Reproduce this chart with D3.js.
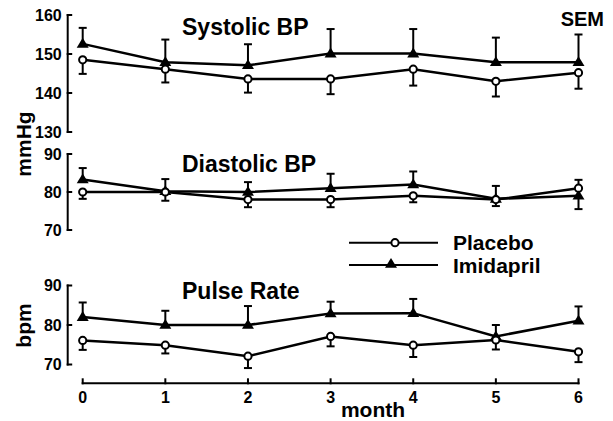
<!DOCTYPE html>
<html>
<head>
<meta charset="utf-8">
<script src="https://cdn.jsdelivr.net/npm/d3@7"></script>
<style>
	body { margin: 0; background: #fff; }
	svg text { font-family: "Liberation Sans", Arial, Helvetica, sans-serif; font-weight: bold; fill: #000; }
</style>
</head>
<body>
<div id="chart"></div>
<script>
"use strict";

var months = [0, 1, 2, 3, 4, 5, 6];

// Systolic BP (mmHg)
var sysPlacebo = [148.5, 146.1, 143.6, 143.6, 146.1, 143.0, 145.2];
var sysPlaceboSem = [3.6, 3.4, 3.5, 3.9, 4.2, 3.9, 4.1];
var sysImid = [152.6, 147.9, 147.1, 150.1, 150.1, 147.9, 147.9];
var sysImidSem = [4.1, 5.8, 5.4, 6.3, 6.3, 6.3, 7.1];

// Diastolic BP (mmHg)
var diaPlacebo = [80.0, 80.0, 78.0, 78.0, 79.0, 78.0, 81.0];
var diaPlaceboSem = [1.8, 2.3, 2.0, 2.0, 1.7, 1.7, 2.2];
var diaImid = [83.3, 80.2, 80.0, 81.0, 82.0, 78.2, 79.0];
var diaImidSem = [3.0, 3.2, 2.6, 3.8, 3.4, 3.4, 3.5];

// Pulse rate (bpm)
var prPlacebo = [76.1, 74.9, 72.1, 77.1, 74.9, 76.2, 73.2];
var prPlaceboSem = [2.4, 2.1, 3.0, 2.5, 3.0, 2.4, 2.6];
var prImid = [82.0, 80.0, 80.0, 82.9, 83.0, 77.1, 81.1];
var prImidSem = [3.7, 3.6, 4.8, 3.0, 3.6, 2.9, 3.6];

// +1 = error bar drawn upward, -1 = downward
var sysPlaceboDir = [-1, -1, -1, -1, -1, -1, -1];
var sysImidDir = [1, 1, 1, 1, 1, 1, 1];
var diaPlaceboDir = [-1, -1, -1, -1, -1, -1, 1];
var diaImidDir = [1, 1, 1, 1, 1, 1, -1];
var prPlaceboDir = [-1, -1, -1, -1, -1, -1, -1];
var prImidDir = [1, 1, 1, 1, 1, 1, 1];

var panels = [
	{ title: "Systolic BP", domain: [130, 160], ticks: [130, 140, 150, 160], top: 15, bottom: 132, titleY: 34.5,
		placebo: sysPlacebo, placeboSem: sysPlaceboSem, placeboDir: sysPlaceboDir,
		imid: sysImid, imidSem: sysImidSem, imidDir: sysImidDir },
	{ title: "Diastolic BP", domain: [70, 90], ticks: [70, 80, 90], top: 154, bottom: 230, titleY: 171.5,
		placebo: diaPlacebo, placeboSem: diaPlaceboSem, placeboDir: diaPlaceboDir,
		imid: diaImid, imidSem: diaImidSem, imidDir: diaImidDir },
	{ title: "Pulse Rate", domain: [70, 90], ticks: [70, 80, 90], top: 285.5, bottom: 364.5, titleY: 298.5,
		placebo: prPlacebo, placeboSem: prPlaceboSem, placeboDir: prPlaceboDir,
		imid: prImid, imidSem: prImidSem, imidDir: prImidDir }
];

var width = 613, height = 421;
var axisX = 67.7;

var svg = d3.select("#chart").append("svg")
	.attr("width", width)
	.attr("height", height);

var x = d3.scaleLinear().domain([0, 6]).range([82.7, 578.5]);

var triangle = "M-6,3.8L6,3.8L0,-6Z";

function drawSeries(g, y, vals, sems, dirs, kind) {
	// error bars
	months.forEach(function(m, i) {
		var y0 = y(vals[i]);
		var y1 = y(vals[i] + dirs[i] * sems[i]);
		g.append("line")
			.attr("x1", x(m)).attr("x2", x(m))
			.attr("y1", y0).attr("y2", y1)
			.attr("stroke", "#000").attr("stroke-width", 2);
		g.append("line")
			.attr("x1", x(m) - 4).attr("x2", x(m) + 4)
			.attr("y1", y1).attr("y2", y1)
			.attr("stroke", "#000").attr("stroke-width", 2);
	});

	var line = d3.line()
		.x(function(d, i) { return x(months[i]); })
		.y(function(d) { return y(d); });

	g.append("path")
		.datum(vals)
		.attr("d", line)
		.attr("fill", "none")
		.attr("stroke", "#000")
		.attr("stroke-width", 2.5);

	if (kind === "circle") {
		g.selectAll(null).data(vals).enter().append("circle")
			.attr("cx", function(d, i) { return x(months[i]); })
			.attr("cy", function(d) { return y(d); })
			.attr("r", 3.6)
			.attr("fill", "#fff")
			.attr("stroke", "#000")
			.attr("stroke-width", 2);
	} else {
		g.selectAll(null).data(vals).enter().append("path")
			.attr("d", triangle)
			.attr("transform", function(d, i) { return "translate(" + x(months[i]) + "," + y(d) + ")"; })
			.attr("fill", "#000");
	}
}

panels.forEach(function(p) {
	var y = d3.scaleLinear().domain(p.domain).range([p.bottom, p.top]);
	var g = svg.append("g");

	// y axis
	g.append("line")
		.attr("x1", axisX).attr("x2", axisX)
		.attr("y1", y(p.domain[0]) + 1).attr("y2", y(p.domain[1]) - 1)
		.attr("stroke", "#000").attr("stroke-width", 2);
	p.ticks.forEach(function(t) {
		g.append("line")
			.attr("x1", axisX - 1).attr("x2", axisX + 4.5)
			.attr("y1", y(t)).attr("y2", y(t))
			.attr("stroke", "#000").attr("stroke-width", 2);
		g.append("text")
			.attr("x", axisX - 6).attr("y", y(t))
			.attr("dy", "0.36em")
			.attr("text-anchor", "end")
			.style("font-size", "16px")
			.text(t);
	});

	g.append("text")
		.attr("x", 182).attr("y", p.titleY)
		.style("font-size", "23px")
		.text(p.title);

	drawSeries(g, y, p.imid, p.imidSem, p.imidDir, "triangle");
	drawSeries(g, y, p.placebo, p.placeboSem, p.placeboDir, "circle");
});

// x axis
var xAxisY = 383.3;
svg.append("line")
	.attr("x1", x(0) - 1).attr("x2", x(6) + 1)
	.attr("y1", xAxisY).attr("y2", xAxisY)
	.attr("stroke", "#000").attr("stroke-width", 2);
months.forEach(function(m) {
	svg.append("line")
		.attr("x1", x(m)).attr("x2", x(m))
		.attr("y1", xAxisY - 5).attr("y2", xAxisY + 1)
		.attr("stroke", "#000").attr("stroke-width", 2);
	svg.append("text")
		.attr("x", x(m)).attr("y", 403)
		.attr("text-anchor", "middle")
		.style("font-size", "16px")
		.text(m);
});
svg.append("text")
	.attr("x", 373).attr("y", 417)
	.attr("text-anchor", "middle")
	.style("font-size", "21px")
	.text("month");

// axis titles
svg.append("text")
	.attr("transform", "translate(31,144) rotate(-90)")
	.attr("text-anchor", "middle")
	.style("font-size", "21px")
	.text("mmHg");
svg.append("text")
	.attr("transform", "translate(31,325.5) rotate(-90)")
	.attr("text-anchor", "middle")
	.style("font-size", "21px")
	.text("bpm");

svg.append("text")
	.attr("x", 604).attr("y", 26)
	.attr("text-anchor", "end")
	.style("font-size", "20px")
	.text("SEM");

// legend
var legend = [
	{ label: "Placebo", kind: "circle", y: 242.7 },
	{ label: "Imidapril", kind: "triangle", y: 265 }
];
legend.forEach(function(l) {
	svg.append("line")
		.attr("x1", 349).attr("x2", 438)
		.attr("y1", l.y).attr("y2", l.y)
		.attr("stroke", "#000").attr("stroke-width", 2);
	if (l.kind === "circle") {
		svg.append("circle")
			.attr("cx", 395).attr("cy", l.y).attr("r", 3.6)
			.attr("fill", "#fff").attr("stroke", "#000").attr("stroke-width", 2);
	} else {
		svg.append("path")
			.attr("d", triangle)
			.attr("transform", "translate(391," + (l.y - 1) + ")")
			.attr("fill", "#000");
	}
	svg.append("text")
		.attr("x", 453).attr("y", l.y)
		.attr("dy", "0.36em")
		.style("font-size", "21px")
		.text(l.label);
});
</script>
</body>
</html>
